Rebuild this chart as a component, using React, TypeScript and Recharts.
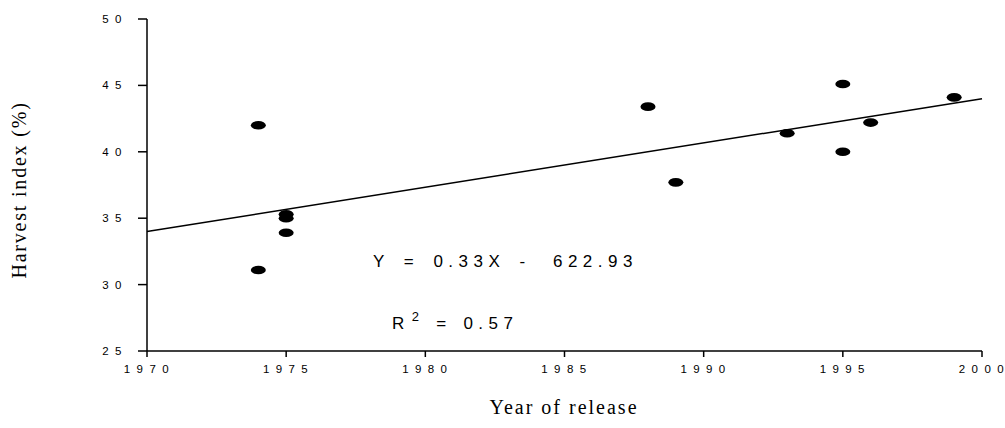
import { ScatterChart, Scatter, XAxis, YAxis, ReferenceLine } from 'recharts';

// Year of release vs harvest index (%)
const releaseYears = [1974, 1974, 1975, 1975, 1975, 1988, 1989, 1993, 1995, 1995, 1996, 1999];
const harvestIndex = [42.0, 31.1, 35.3, 35.0, 33.9, 43.4, 37.7, 41.4, 45.1, 40.0, 42.2, 44.1];

// fitted regression line end points
const fitYears = [1970, 2000];
const fitValues = [34.0, 44.0];

const xTicks = [1970, 1975, 1980, 1985, 1990, 1995, 2000];
const yTicks = [25, 30, 35, 40, 45, 50];

const points = releaseYears.map((year, i) => ({ year, hi: harvestIndex[i] }));
const fitSegment = fitYears.map((x, i) => ({ x, y: fitValues[i] }));

const SANS = '"Liberation Sans", Arial, sans-serif';
const SERIF = '"Liberation Serif", "Times New Roman", serif';

const spaced = (v: number) => String(v).split('').join(' ');

const Blob = (props: any) => {
  const { cx, cy } = props;
  if (cx == null || cy == null) return null;
  return <ellipse cx={cx} cy={cy} rx={7.5} ry={4.3} fill="#000" />;
};

export default function App() {
  const tickStyle = { fontSize: 11.5, fill: '#000', fontFamily: SANS, letterSpacing: 1.6 };
  return (
    <div style={{ position: 'absolute', left: 0, top: 0, background: '#fff' }}>
      <ScatterChart
        width={1005}
        height={428}
        margin={{ top: 19, right: 23, left: 0, bottom: 0 }}
      >
        <XAxis
          type="number"
          dataKey="year"
          domain={[1970, 2000]}
          ticks={xTicks}
          tickFormatter={spaced}
          height={77}
          tickSize={6}
          tickMargin={8}
          stroke="#000"
          strokeWidth={1.5}
          tick={tickStyle}
          allowDataOverflow
        />
        <YAxis
          type="number"
          dataKey="hi"
          domain={[25, 50]}
          ticks={yTicks}
          tickFormatter={spaced}
          width={147}
          tickSize={9}
          tickMargin={15}
          stroke="#000"
          strokeWidth={1.5}
          tick={tickStyle}
          allowDataOverflow
        />
        <ReferenceLine
          segment={fitSegment}
          stroke="#000"
          strokeWidth={1.5}
          ifOverflow="visible"
        />
        <Scatter data={points} shape={<Blob />} isAnimationActive={false} />

        <text
          x={373}
          y={267}
          fontFamily={SANS}
          fontSize={17}
          letterSpacing={5.5}
          wordSpacing={4}
          fill="#000"
        >
          <tspan>Y = 0.33X -</tspan>
          <tspan dx={8}> 622.93</tspan>
        </text>
        <text
          x={392}
          y={329}
          fontFamily={SANS}
          fontSize={17}
          letterSpacing={5.5}
          wordSpacing={1.5}
          fill="#000"
        >
          <tspan>R</tspan>
          <tspan fontSize={13} dy={-8} dx={2}>2</tspan>
          <tspan dy={8}> = 0.57</tspan>
        </text>

        <text
          x={564}
          y={414}
          textAnchor="middle"
          fontFamily={SERIF}
          fontSize={20}
          letterSpacing={2}
          fill="#000"
        >
          Year of release
        </text>
        <text
          x={26}
          y={190}
          textAnchor="middle"
          transform="rotate(-90 26 190)"
          fontFamily={SERIF}
          fontSize={20}
          letterSpacing={1.8}
          fill="#000"
        >
          Harvest index (%)
        </text>
      </ScatterChart>
    </div>
  );
}
